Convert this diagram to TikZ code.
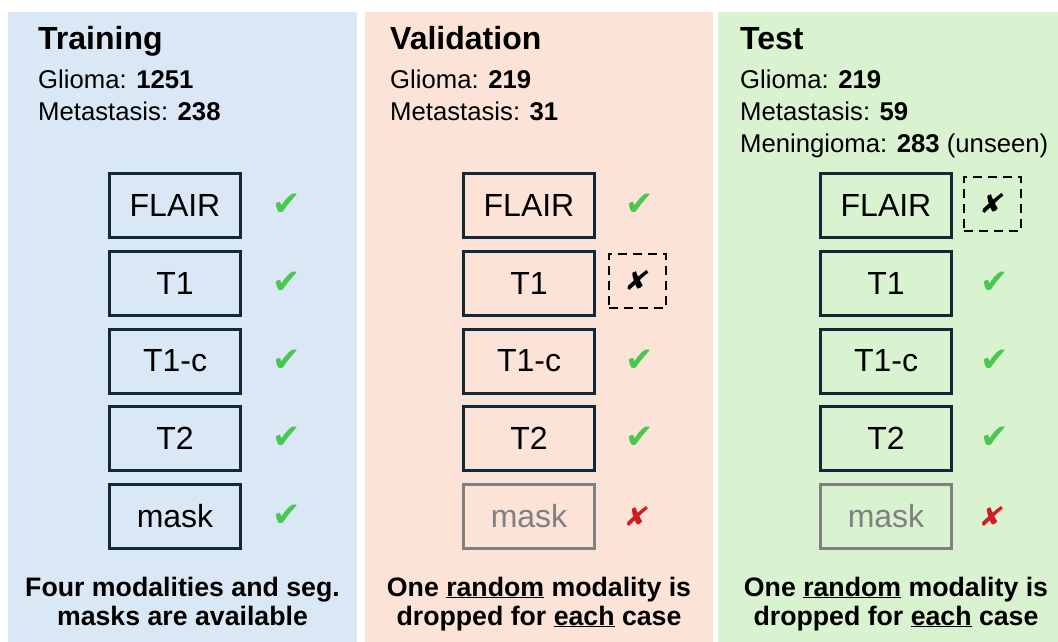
\documentclass[tikz,border=0pt]{standalone}
\usepackage{fontspec}
\setmainfont{Liberation Sans}
\newfontfamily\symfont{DejaVu Sans}
\definecolor{trainbg}{RGB}{218,232,246}
\definecolor{valbg}{RGB}{252,227,215}
\definecolor{testbg}{RGB}{217,242,208}
\definecolor{boxline}{RGB}{18,40,55}
\definecolor{okgreen}{RGB}{72,200,80}
\definecolor{dropred}{RGB}{208,28,36}
\definecolor{masked}{RGB}{128,128,128}
\tikzset{
  title/.style={anchor=base west, inner sep=0pt, font=\fontsize{32}{36}\selectfont\bfseries},
  info/.style={anchor=base west, inner sep=0pt, align=left, font=\fontsize{25.7}{32}\selectfont},
  modbox/.style={draw=boxline, line width=3pt, minimum width=131pt, minimum height=64pt, inner sep=0pt, font=\fontsize{32}{36}\selectfont},
  maskbox/.style={modbox, draw=masked, text=masked},
  okmark/.style={text=okgreen, inner sep=0pt, font=\symfont\fontsize{34}{36}\selectfont},
  nomark/.style={text=dropred, inner sep=0pt, xslant=0.25, font=\symfont\fontsize{27}{30}\selectfont},
  dropbox/.style={draw=black, line width=2.2pt, dash pattern=on 9pt off 6pt, minimum width=57pt, minimum height=54pt, inner sep=0pt},
  dropmark/.style={inner sep=0pt, xslant=0.25, font=\symfont\fontsize{27}{30}\selectfont},
  note/.style={anchor=base, inner sep=0pt, align=center, font=\fontsize{26.7}{29}\selectfont\bfseries}
}
\newcommand{\okm}{\char"2714}
\newcommand{\nom}{\char"2718}
\begin{document}
\begin{tikzpicture}[x=1pt, y=-1pt]
\useasboundingbox (0,0) rectangle (1058,642);
\fill[white] (0,0) rectangle (1058,642);
% panels
\fill[trainbg] (8,12) rectangle (357,642);
\fill[valbg] (365,12) rectangle (713,642);
\fill[testbg] (718,12) rectangle (1058,642);

% ---- training ----
\node[title] (trT) at (38,50) {Training};
\node[info] (trI) at (38,120) {Glioma: \textbf{1251}\\Metastasis: \textbf{238}};
\foreach \n/\t/\y in {1/FLAIR/205, 2/T1/283, 3/T1-c/361, 4/T2/438, 5/mask/516}{
  \node[modbox] (tr\n) at (175,\y) {\t};
  \node[okmark] (trc\n) at (287,\y) {\okm};
}
\node[note] (trN) at (182.5,625) {Four modalities and seg.\\masks are available};

% ---- validation ----
\node[title] (vaT) at (390,50) {Validation};
\node[info] (vaI) at (390,120) {Glioma: \textbf{219}\\Metastasis: \textbf{31}};
\foreach \n/\t/\y in {1/FLAIR/205, 2/T1/283, 3/T1-c/361, 4/T2/438}{
  \node[modbox] (va\n) at (529,\y) {\t};
}
\node[maskbox] (va5) at (529,516) {mask};
\node[okmark] (vac1) at (640,205) {\okm};
\node[dropbox] (vac2) at (637.5,281) {};
\node[dropmark] (vax2) at (vac2.center) {\nom};
\node[okmark] (vac3) at (640,361) {\okm};
\node[okmark] (vac4) at (640,438) {\okm};
\node[nomark] (vac5) at (637,517) {\nom};
\node[note] (vaN) at (539,625) {One \underline{random} modality is\\dropped for \underline{each} case};

% ---- test ----
\node[title] (teT) at (740,50) {Test};
\node[info] (teI) at (740,152) {Glioma: \textbf{219}\\Metastasis: \textbf{59}\\Meningioma: \textbf{283} (unseen)};
\foreach \n/\t/\y in {1/FLAIR/205, 2/T1/283, 3/T1-c/361, 4/T2/438}{
  \node[modbox] (te\n) at (886,\y) {\t};
}
\node[maskbox] (te5) at (886,516) {mask};
\node[dropbox] (tec1) at (992.5,204) {};
\node[dropmark] (tex1) at (tec1.center) {\nom};
\node[okmark] (tec2) at (995,283) {\okm};
\node[okmark] (tec3) at (995,361) {\okm};
\node[okmark] (tec4) at (995,438) {\okm};
\node[nomark] (tec5) at (992,517) {\nom};
\node[note] (teN) at (896,625) {One \underline{random} modality is\\dropped for \underline{each} case};
\end{tikzpicture}
\end{document}
